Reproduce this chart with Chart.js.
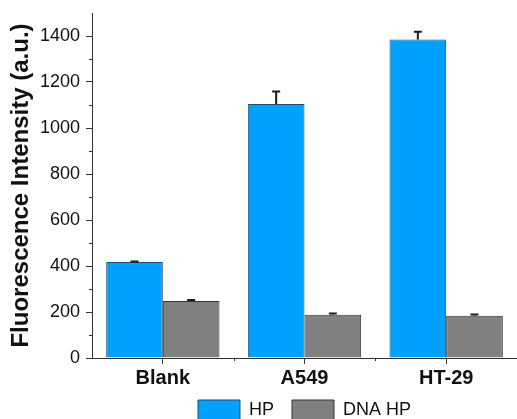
<!DOCTYPE html>
<html>
<head>
<meta charset="utf-8">
<script src="https://cdn.jsdelivr.net/npm/chart.js@4"></script>
<style>
  html, body { margin: 0; padding: 0; background: #fff; }
  #wrap { width: 517px; height: 419px; }
</style>
</head>
<body>
<div id="wrap"><canvas id="chart"></canvas></div>
<script>
// Data
const categories = ['Blank', 'A549', 'HT-29'];
const hpValues = [417, 1104, 1385];
const hpErrors = [3, 55, 33];
const dnaValues = [248, 188, 184];
const dnaErrors = [4, 5, 5];
const yTicks = [0, 200, 400, 600, 800, 1000, 1200, 1400];
const yMinorTicks = [100, 300, 500, 700, 900, 1100, 1300];

const axisColor = '#333333';
const fontFamily = 'Liberation Sans, Arial, sans-serif';

// Upper error bars + minor ticks
const extrasPlugin = {
  id: 'extras',
  afterLayout(chart) {
    // let the category labels overflow the squeezed axis box
    chart.scales.x.bottom = chart.height;
  },
  afterDatasetsDraw(chart) {
    const ctx = chart.ctx;
    const y = chart.scales.y;
    const x = chart.scales.x;
    const errs = [hpErrors, dnaErrors];
    ctx.save();
    ctx.strokeStyle = '#1a1a1a';
    ctx.lineWidth = 2;
    chart.data.datasets.forEach((ds, di) => {
      const meta = chart.getDatasetMeta(di);
      meta.data.forEach((bar, i) => {
        const top = y.getPixelForValue(ds.data[i] + errs[di][i]);
        const base = y.getPixelForValue(ds.data[i]);
        ctx.beginPath();
        ctx.moveTo(bar.x, base);
        ctx.lineTo(bar.x, top);
        ctx.moveTo(bar.x - 4, top);
        ctx.lineTo(bar.x + 4, top);
        ctx.stroke();
      });
    });
    // minor ticks
    ctx.strokeStyle = axisColor;
    ctx.lineWidth = 1;
    ctx.beginPath();
    yMinorTicks.forEach(v => {
      const py = Math.round(y.getPixelForValue(v)) + 0.5;
      ctx.moveTo(y.right, py);
      ctx.lineTo(y.right - 3, py);
    });
    for (let i = 0; i < categories.length - 1; i++) {
      const px = Math.round((x.getPixelForValue(i) + x.getPixelForValue(i + 1)) / 2) + 0.5;
      ctx.moveTo(px, x.top);
      ctx.lineTo(px, x.top + 3);
    }
    ctx.stroke();
    ctx.restore();
  }
};

new Chart(document.getElementById('chart'), {
  type: 'bar',
  data: {
    labels: categories,
    datasets: [
      {
        label: 'HP',
        data: hpValues,
        backgroundColor: '#00a0ff',
        borderColor: '#2b4a66',
        borderWidth: 1,
        categoryPercentage: 0.8,
        barPercentage: 1.0
      },
      {
        label: 'DNA HP',
        data: dnaValues,
        backgroundColor: '#808080',
        borderColor: '#333333',
        borderWidth: 1,
        categoryPercentage: 0.8,
        barPercentage: 1.0
      }
    ]
  },
  options: {
    responsive: true,
    maintainAspectRatio: false,
    animation: false,
    layout: { padding: { top: 13, right: 0, left: 0, bottom: -11 } },
    plugins: {
      tooltip: { enabled: false },
      legend: {
        position: 'bottom',
        fullSize: false,
        labels: {
          boxWidth: 42,
          boxHeight: 20,
          padding: 18,
          color: '#111',
          font: { family: fontFamily, size: 18 }
        }
      }
    },
    scales: {
      x: {
        afterFit(scale) {
          scale.height = 24;
        },
        grid: {
          display: true,
          drawOnChartArea: false,
          offset: false,
          tickLength: 6,
          tickColor: axisColor
        },
        border: { color: axisColor, width: 1 },
        ticks: {
          color: '#111',
          padding: 2,
          font: { family: fontFamily, size: 20, weight: 'bold' }
        }
      },
      y: {
        min: 0,
        max: 1500,
        afterBuildTicks(scale) {
          scale.ticks = yTicks.map(v => ({ value: v }));
        },
        afterFit(scale) {
          scale.width = 92;
          scale.paddingTop = 0;
          scale.paddingBottom = 0;
        },
        grid: {
          display: true,
          drawOnChartArea: false,
          tickLength: 6,
          tickColor: axisColor
        },
        border: { color: axisColor, width: 1 },
        ticks: {
          color: '#111',
          padding: 6,
          callback: v => String(v),
          font: { family: fontFamily, size: 18 }
        },
        title: {
          display: true,
          text: 'Fluorescence Intensity (a.u.)',
          color: '#111',
          padding: { top: 7, bottom: 0 },
          font: { family: fontFamily, size: 24, weight: 'bold' }
        }
      }
    }
  },
  plugins: [extrasPlugin]
});
</script>
</body>
</html>
